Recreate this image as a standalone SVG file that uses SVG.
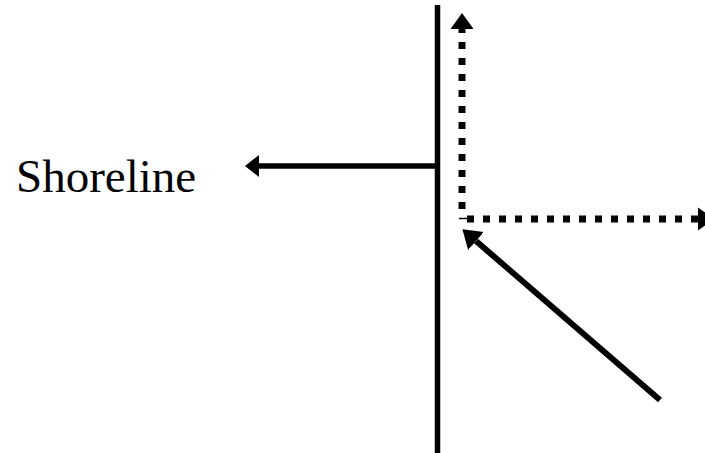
<svg xmlns="http://www.w3.org/2000/svg" width="705" height="453" viewBox="0 0 705 453">
  <style>
    .solid { stroke: #000; fill: none; stroke-linecap: butt; }
    .dotted { stroke: #000; fill: none; stroke-width: 7; stroke-dasharray: 7 9; stroke-linecap: butt; }
    .label { font-family: "Liberation Serif", "Times New Roman", serif; font-size: 47px; fill: #000; }
  </style>
  <defs>
    <marker id="headS" markerUnits="userSpaceOnUse" markerWidth="20" markerHeight="26" viewBox="0 -13 20 26" refX="0" refY="0" orient="auto">
      <path d="M0,-11 L14,0 L0,11 z" fill="#000"/>
    </marker>
    <marker id="headD" markerUnits="userSpaceOnUse" markerWidth="20" markerHeight="26" viewBox="0 -13 20 26" refX="0" refY="0" orient="auto">
      <path d="M0,-11.5 L16,0 L0,11.5 z" fill="#000"/>
    </marker>
    <marker id="headL" markerUnits="userSpaceOnUse" markerWidth="22" markerHeight="28" viewBox="0 -14 22 28" refX="0" refY="0" orient="auto">
      <path d="M0,-12 L18,0 L0,12 z" fill="#000"/>
    </marker>
  </defs>

  <g id="shoreline-wall">
    <line class="solid" x1="437.5" y1="5" x2="437.5" y2="453" stroke-width="5.5"/>
  </g>

  <g id="shoreline-label">
    <text class="label" x="16" y="192">Shoreline</text>
  </g>

  <g id="connectors">
    <line id="to-shoreline" class="solid" x1="437" y1="166" x2="259" y2="166" stroke-width="5.5" marker-end="url(#headS)"/>
    <line id="dotted-up" class="dotted" x1="462" y1="209" x2="462" y2="29" marker-end="url(#headD)"/>
    <line id="corner-tick" class="solid" x1="459" y1="218.5" x2="467" y2="218.5" stroke-width="1.5"/>
    <line id="dotted-right" class="dotted" x1="467" y1="219" x2="698" y2="219" marker-end="url(#headD)"/>
    <line id="incident" class="solid" x1="660" y1="400" x2="476" y2="241" stroke-width="6" marker-end="url(#headL)"/>
  </g>
</svg>
